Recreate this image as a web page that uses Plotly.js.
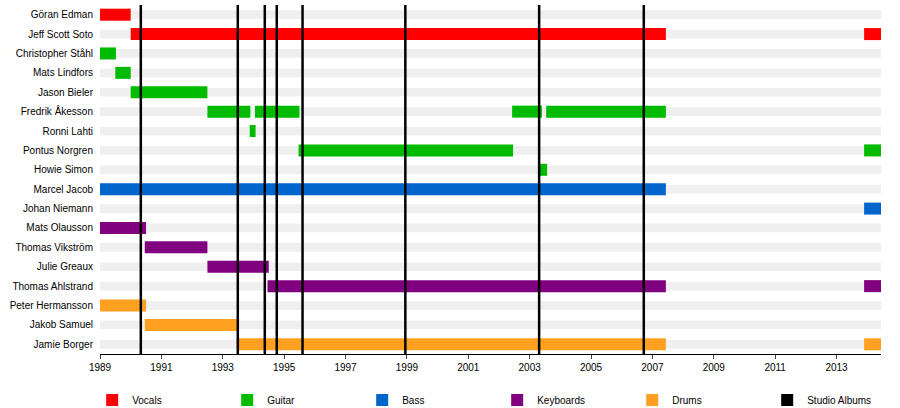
<!DOCTYPE html>
<html><head><meta charset="utf-8">
<script src="https://cdn.plot.ly/plotly-3.0.1.min.js"></script>
<style>body{margin:0}#chart{width:900px;height:408px}</style>
</head><body><div id="chart"></div>
<script>
const members = ['Göran Edman','Jeff Scott Soto','Christopher Ståhl','Mats Lindfors','Jason Bieler',
  'Fredrik Åkesson','Ronni Lahti','Pontus Norgren','Howie Simon','Marcel Jacob','Johan Niemann',
  'Mats Olausson','Thomas Vikström','Julie Greaux','Thomas Ahlstrand','Peter Hermansson','Jakob Samuel','Jamie Borger'];

// [member index, start, end]
const vocals = [[0,1989,1990],[1,1990,2007.44],[1,2013.9,2014.45]];
const guitar = [[2,1989,1989.52],[3,1989.5,1990],[4,1990,1992.5],[5,1992.5,1993.9],[5,1994.05,1995.5],
  [5,2002.43,2003.4],[5,2003.54,2007.44],[6,1993.88,1994.07],[7,1995.47,2002.46],[7,2013.9,2014.45],[8,2003.3,2003.57]];
const bass = [[9,1989,2007.44],[10,2013.9,2014.45]];
const keyboards = [[11,1989,1990.5],[12,1990.46,1992.5],[13,1992.5,1994.5],[14,1994.46,2007.44],[14,2013.9,2014.45]];
const drums = [[15,1989,1990.5],[16,1990.46,1993.49],[17,1993.46,2007.44],[17,2013.9,2014.45]];
const albums = [1990.33,1993.49,1994.37,1994.76,1995.6,1998.95,2003.31,2006.72];

const xMin = 1989, xMax = 2014.45;

function roleTrace(name, color, rows) {
  return {
    type: 'bar', orientation: 'h', name: name,
    y: rows.map(r => r[0]), base: rows.map(r => r[1]), x: rows.map(r => r[2] - r[1]),
    marker: {color: color}, width: 0.62, hoverinfo: 'skip'
  };
}

const data = [{
  type: 'bar', orientation: 'h', showlegend: false, hoverinfo: 'skip',
  y: members.map((m, i) => i), base: members.map(() => xMin), x: members.map(() => xMax - xMin),
  marker: {color: '#efefef'}, width: 0.45
},
  roleTrace('Vocals', '#ff0000', vocals),
  roleTrace('Guitar', '#00bb00', guitar),
  roleTrace('Bass', '#0066cc', bass),
  roleTrace('Keyboards', '#800080', keyboards),
  roleTrace('Drums', '#ffa020', drums),
  {type: 'bar', orientation: 'h', name: 'Studio Albums', x: [null], y: [null], marker: {color: '#000'}}
];

albums.forEach(a => data.push({
  type: 'scatter', mode: 'lines', x: [a, a], y: [-0.5, 17.5], showlegend: false,
  line: {color: '#000', width: 2.5}, hoverinfo: 'skip'
}));

const layout = {
  barmode: 'overlay',
  margin: {l: 100, r: 19, t: 5, b: 54, autoexpand: false},
  font: {family: 'Liberation Sans, Arial, sans-serif', size: 10, color: '#000'},
  plot_bgcolor: '#fff', paper_bgcolor: '#fff',
  xaxis: {range: [xMin, xMax], tickvals: [1989,1991,1993,1995,1997,1999,2001,2003,2005,2007,2009,2011,2013],
    showgrid: false, zeroline: false, ticks: 'outside', ticklen: 4, showline: true, linecolor: '#000'},
  yaxis: {range: [17.5, -0.5], tickvals: members.map((m, i) => i), ticktext: members,
    showgrid: false, zeroline: false, ticks: '', ticklabelstandoff: 6},
  showlegend: true,
  legend: {orientation: 'h', x: -0.01, xanchor: 'left', y: -0.09, yanchor: 'top',
    traceorder: 'normal', font: {size: 10}, entrywidth: 90, entrywidthmode: 'pixels'}
};

Plotly.newPlot('chart', data, layout, {displayModeBar: false});
</script></body></html>
